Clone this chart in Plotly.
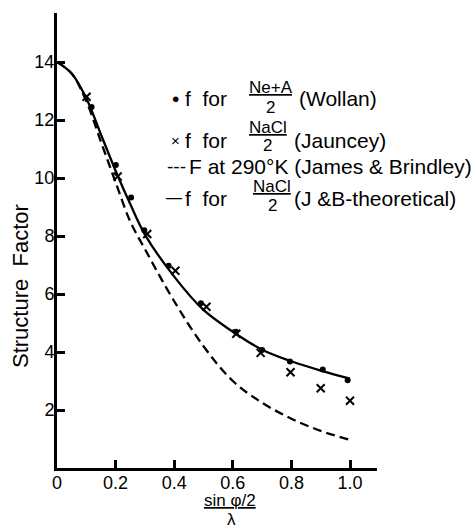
import plotly.graph_objects as go

# ---- data ----
wollan_x = [0.118, 0.201, 0.253, 0.298, 0.381, 0.491, 0.611, 0.700, 0.795, 0.907, 0.992]
wollan_y = [12.45, 10.45, 9.33, 8.20, 6.97, 5.68, 4.70, 4.07, 3.67, 3.40, 3.03]

jauncey_x = [0.101, 0.207, 0.308, 0.404, 0.510, 0.612, 0.695, 0.797, 0.900, 1.000]
jauncey_y = [12.80, 10.05, 8.07, 6.80, 5.56, 4.63, 3.97, 3.30, 2.75, 2.32]

theory_x = [0.0, 0.05, 0.1, 0.15, 0.2, 0.25, 0.3, 0.4, 0.5, 0.6, 0.7, 0.8, 0.9, 1.0]
theory_y = [14.0, 13.6, 12.75, 11.5, 10.25, 9.1, 8.05, 6.6, 5.45, 4.7, 4.08, 3.68, 3.36, 3.08]

james_x = [0.0, 0.05, 0.1, 0.15, 0.2, 0.25, 0.3, 0.4, 0.5, 0.6, 0.7, 0.8, 0.9, 1.0]
james_y = [14.0, 13.6, 12.65, 11.25, 9.85, 8.5, 7.55, 5.75, 4.2, 3.0, 2.25, 1.7, 1.28, 0.97]

x_tickvals = [0, 0.2, 0.4, 0.6, 0.8, 1.0]
x_ticktext = ["0", "0.2", "0.4", "0.6", "0.8", "1.0"]
y_tickvals = [2, 4, 6, 8, 10, 12, 14]

# ---- layout geometry (pixels) ----
W, H = 475, 529
L, R, T, B = 57, 98, 13, 61
PW, PH = W - L - R, H - T - B
FONT = "Liberation Sans, Arial, sans-serif"

def px(x):
    return (x - L) / PW

def py(y):
    return (H - B - y) / PH

fig = go.Figure()
fig.add_trace(go.Scatter(x=james_x, y=james_y, mode="lines", line=dict(color="black", width=2.3, dash="9px,5px", shape="spline"), hoverinfo="skip"))
fig.add_trace(go.Scatter(x=theory_x, y=theory_y, mode="lines", line=dict(color="black", width=2.3, shape="spline"), hoverinfo="skip"))
fig.add_trace(go.Scatter(x=wollan_x, y=wollan_y, mode="markers", marker=dict(symbol="circle", size=6, color="black")))
fig.add_trace(go.Scatter(x=jauncey_x, y=jauncey_y, mode="markers", marker=dict(symbol="x-thin", size=8, line=dict(width=2, color="black"), color="black")))

ann = []
def text(t, x, y, size=21, xanchor="left"):
    ann.append(dict(text=t, x=px(x), y=py(y), xref="paper", yref="paper", showarrow=False,
                    xanchor=xanchor, yanchor="middle", font=dict(family=FONT, size=size, color="black")))

FR = 17  # fraction font size
# legend block
text("•", 175, 98, xanchor="center")
text("f  for", 183, 98)
text("<u>Ne+A</u>", 271, 88, size=FR, xanchor="center")
text("2", 270, 107, size=FR, xanchor="center")
text("(Wollan)", 297, 98)

text("×", 175, 140, size=15, xanchor="center")
text("f  for", 183, 140)
text("<u>NaCl</u>", 268, 127, size=FR, xanchor="center")
text("2", 267, 146, size=FR, xanchor="center")
text("(Jauncey)", 292, 140)

text("---", 165, 166, size=19)
text("F at 290°K (James &amp; Brindley)", 187, 166)

text("—", 164, 197, size=16)
text("f  for", 183, 198)
text("<u>NaCl</u>", 272, 186, size=FR, xanchor="center")
text("2", 272, 205, size=FR, xanchor="center")
text("(J &amp;B-theoretical)", 292, 198)

# x-axis title (fraction)
text("<u>sin φ/2</u>", 230, 500, size=17, xanchor="center")
text("λ", 231, 519, size=17, xanchor="center")

# y-axis title
ann.append(dict(text="Structure  Factor", x=px(20), y=py(286), xref="paper", yref="paper", showarrow=False,
                textangle=-90, xanchor="center", yanchor="middle", font=dict(family=FONT, size=22, color="black")))

fig.update_layout(
    width=W, height=H, margin=dict(l=L, r=R, t=T, b=B),
    paper_bgcolor="white", plot_bgcolor="white", showlegend=False,
    annotations=ann,
    xaxis=dict(range=[0, (377 - L) / 293 * 1.0], tickvals=x_tickvals, ticktext=x_ticktext,
               ticks="inside", ticklen=8, tickwidth=2.5, tickcolor="black", ticklabelstandoff=-4,
               showline=True, linewidth=3, linecolor="black", showgrid=False, zeroline=False,
               tickfont=dict(family=FONT, size=18, color="black"), fixedrange=True),
    yaxis=dict(range=[0, (468 - 13) / 29.0], tickvals=y_tickvals,
               ticks="inside", ticklen=8, tickwidth=2.5, tickcolor="black", ticklabelstandoff=-4,
               showline=True, linewidth=3, linecolor="black", showgrid=False, zeroline=False,
               tickfont=dict(family=FONT, size=18, color="black"), fixedrange=True),
)

fig.write_html("out.html")
